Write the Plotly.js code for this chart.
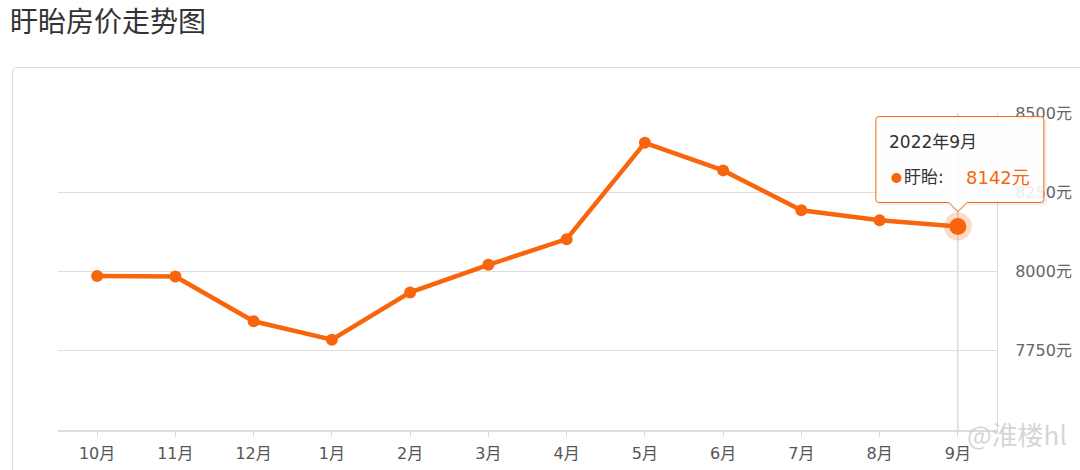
<!DOCTYPE html>
<html>
<head>
<meta charset="utf-8">
<script src="https://cdn.plot.ly/plotly-3.0.1.min.js"></script>
<style>
  html, body { margin: 0; padding: 0; background: #fff; }
  #wrap { position: relative; width: 1080px; height: 470px; overflow: hidden; }
  #card { position: absolute; left: 12px; top: 67px; width: 1200px; height: 600px;
          border: 1px solid #dcdcdc; border-radius: 5px; box-sizing: border-box; }
  #chart { position: absolute; left: 0; top: 0; width: 1080px; height: 470px; }
</style>
</head>
<body>
<div id="wrap">
  <div id="card"></div>
  <div id="chart"></div>
</div>
<script>
const months = ['10月','11月','12月','1月','2月','3月','4月','5月','6月','7月','8月','9月'];
const prices = [7986, 7984, 7843, 7785, 7934, 8021, 8102, 8406, 8319, 8193, 8162, 8142];
const yTickVals = [7750, 8000, 8250, 8500];
const yTickText = ['7750元', '8000元', '8250元', '8500元'];
const yRange = [7500, 8500];
const seriesName = '盱眙';
const tooltipTitle = '2022年9月';
const chartTitle = '盱眙房价走势图';

const orange = '#f8650c';
const cjk = '"Noto Sans CJK SC", "Noto Sans", sans-serif';
const num = '"DejaVu Sans", "Noto Sans CJK SC", sans-serif';
const hi = months.length - 1;

// anchor of the highlighted point in paper units (derived from the axis ranges)
const hiPX = (hi + 0.5) / months.length;
const hiPY = (prices[hi] - yRange[0]) / (yRange[1] - yRange[0]);

const traces = [
  {
    type: 'scatter', mode: 'lines+markers', x: months, y: prices, name: seriesName,
    line: { color: orange, width: 4.5 },
    marker: { color: orange, size: 12 },
    hoverinfo: 'skip'
  },
  {
    type: 'scatter', mode: 'markers', x: [months[hi]], y: [prices[hi]],
    marker: { color: 'rgba(248,101,12,0.22)', size: 28 },
    hoverinfo: 'skip', showlegend: false
  },
  {
    type: 'scatter', mode: 'markers', x: [months[hi]], y: [prices[hi]],
    marker: { color: orange, size: 17 },
    hoverinfo: 'skip', showlegend: false
  }
];

const tipPath = 'M -79,110 L 83,110 Q 86,110 86,107 L 86,27 Q 86,24 83,24 L 9,24 L 0,15 L -9,24 L -79,24 Q -82,24 -82,27 L -82,107 Q -82,110 -79,110 Z';
const shadowPath = 'M -78,108 L 87,108 Q 89,108 89,105 L 89,24 Q 89,21 86,21 L 9,21 L 0,12 L -9,21 L -78,21 Q -80,21 -80,24 L -80,105 Q -80,108 -78,108 Z';

const ann = (text, xshift, yshift, size, color, family) => ({
  xref: 'paper', yref: 'paper', x: hiPX, y: hiPY, text: text, showarrow: false,
  xanchor: 'left', yanchor: 'middle', xshift: xshift, yshift: yshift,
  font: { family: family, size: size, color: color }
});

const layout = {
  width: 1080, height: 470,
  margin: { l: 58, r: 83, t: 113, b: 40 },
  paper_bgcolor: 'rgba(0,0,0,0)',
  plot_bgcolor: 'rgba(0,0,0,0)',
  showlegend: false,
  font: { family: num, color: '#555' },
  title: {
    text: chartTitle,
    font: { family: cjk, size: 28, color: '#333' },
    xref: 'container', yref: 'container',
    x: 10 / 1080, xanchor: 'left',
    y: 1 - 22 / 470, yanchor: 'middle'
  },
  xaxis: {
    type: 'category',
    range: [-0.5, months.length - 0.5],
    showgrid: false, zeroline: false,
    showline: true, linecolor: '#dcdcdc', linewidth: 2,
    ticks: 'outside', ticklen: 5, tickcolor: '#dcdcdc', tickwidth: 1,
    ticklabelstandoff: 3,
    tickfont: { family: num, size: 16, color: '#555' },
    fixedrange: true
  },
  yaxis: {
    side: 'right',
    range: yRange,
    tickvals: yTickVals, ticktext: yTickText,
    showgrid: true, gridcolor: '#dedede', gridwidth: 1,
    zeroline: false,
    showline: true, linecolor: '#dcdcdc', linewidth: 1,
    ticks: '', ticklabelstandoff: 14,
    tickfont: { family: num, size: 16, color: '#666' },
    fixedrange: true
  },
  shapes: [
    { type: 'line', xref: 'x', yref: 'paper', x0: hi, x1: hi, y0: 0, y1: 1,
      line: { color: '#c8c8c8', width: 1 }, layer: 'below' },
    { type: 'path', xref: 'paper', yref: 'paper', xsizemode: 'pixel', ysizemode: 'pixel',
      xanchor: hiPX, yanchor: hiPY, path: shadowPath,
      fillcolor: 'rgba(0,0,0,0.05)', line: { width: 0 }, layer: 'above' },
    { type: 'path', xref: 'paper', yref: 'paper', xsizemode: 'pixel', ysizemode: 'pixel',
      xanchor: hiPX, yanchor: hiPY, path: tipPath,
      fillcolor: 'rgba(255,255,255,0.88)', line: { color: orange, width: 1 }, layer: 'above' }
  ],
  annotations: [
    ann(tooltipTitle, -71, 84, 17, '#333', num),
    ann('●', -69, 49, 11, orange, cjk),
    ann(seriesName + ':', -56, 49, 17, '#333', num),
    ann(prices[hi] + '元', 6, 49, 18, orange, num),
    { xref: 'paper', yref: 'paper', x: 1.077, y: -0.01, text: '@淮楼hl', showarrow: false,
      xanchor: 'right', yanchor: 'middle',
      font: { family: cjk, size: 26, color: 'rgba(200,200,200,0.75)' } }
  ]
};

Plotly.newPlot('chart', traces, layout, { displayModeBar: false, staticPlot: true });
</script>
</body>
</html>
